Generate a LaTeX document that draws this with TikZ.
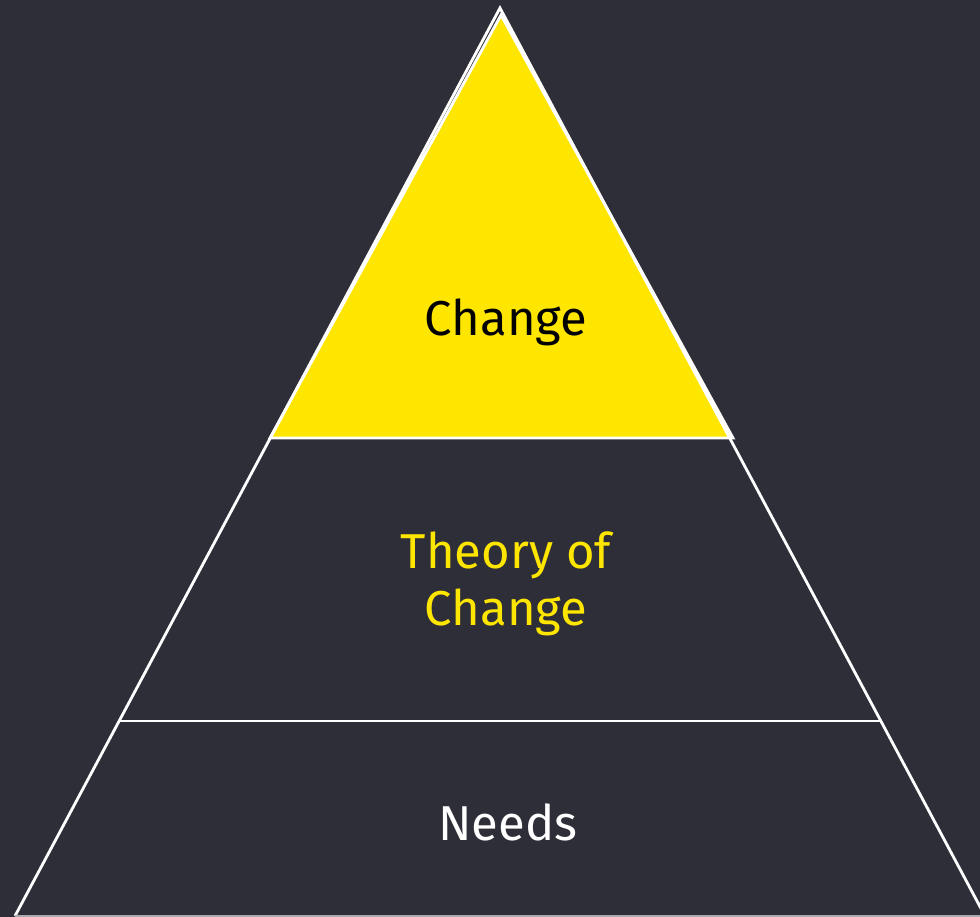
\documentclass[tikz,border=0pt]{standalone}
\usepackage{fontspec}
\setmainfont{Fira Sans}
\usetikzlibrary{positioning}
\definecolor{bgdark}{HTML}{2E2E38}
\definecolor{eyyellow}{HTML}{FFE600}

\begin{document}
\begin{tikzpicture}[x=1pt, y=-1pt]
\fill[bgdark] (0, 0) rectangle (980, 917);
\useasboundingbox (0, 0) rectangle (980, 917);

\coordinate (apex) at (500, 8);
\coordinate (l1) at (270, 438);
\coordinate (r1) at (733, 438);
\coordinate (l2) at (118, 721);
\coordinate (r2) at (882, 721);
\coordinate (l3) at (15, 916);
\coordinate (r3) at (985, 916);

\fill[eyyellow, draw=white, line width=2.8pt] (501, 15) -- (l1) -- (r1) -- cycle;

\draw[white, line width=2.8pt] (l3) -- (apex) -- (r3);
\draw[white, line width=2.8pt] (l2) -- (r2);
\draw[white!60!bgdark, line width=2pt] (l3) -- (r3);

\node[black, font=\fontsize{49}{58}\selectfont] (change) at (506, 322) {Change};
\node[eyyellow, align=center, font=\fontsize{49}{57}\selectfont] (toc) at (506, 584) {Theory of\\Change};
\node[white, font=\fontsize{49}{58}\selectfont] (needs) at (508, 822) {Needs};
\end{tikzpicture}
\end{document}
